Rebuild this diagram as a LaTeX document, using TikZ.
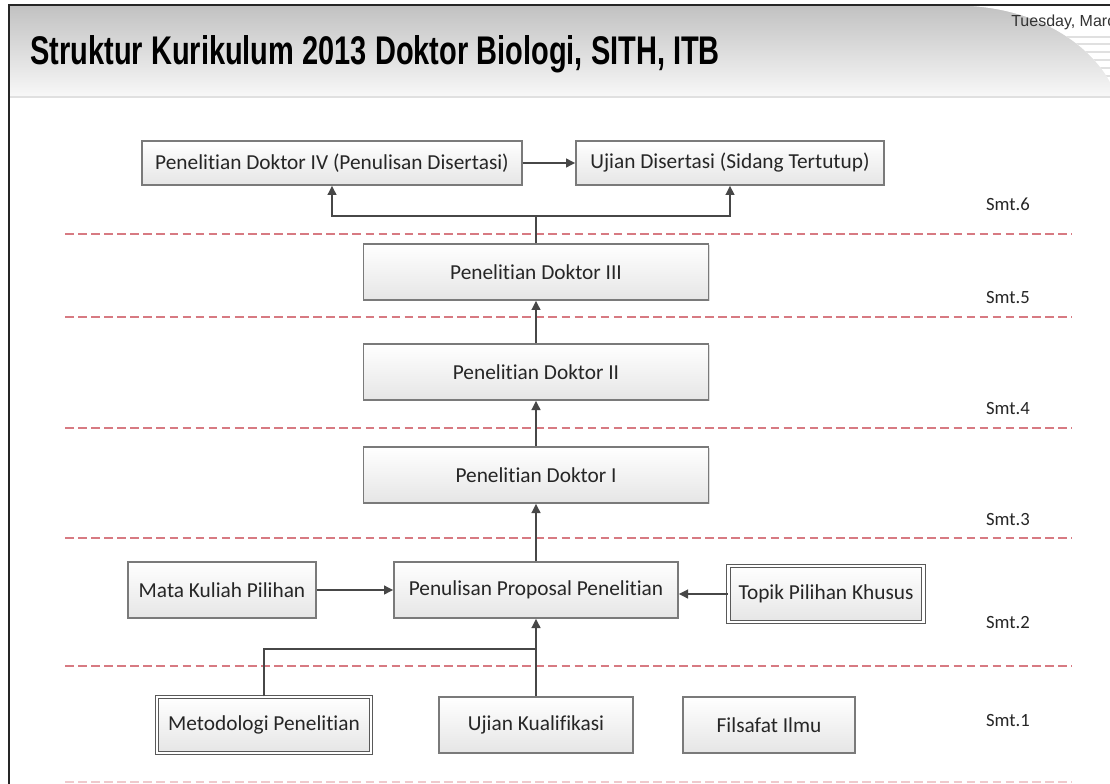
\documentclass[tikz,border=0pt]{standalone}
\usepackage{fontspec}
\setmainfont{Carlito}[Ligatures=NoCommon]
\newfontfamily\arialfont{Liberation Sans}
\usetikzlibrary{arrows.meta,shadows}
\definecolor{boxline}{HTML}{7A7A7A}
\definecolor{boxtext}{HTML}{262626}
\definecolor{arrcol}{HTML}{474747}
\definecolor{dashcol}{HTML}{D77A82}
\tikzset{
  stepbox/.style={draw=boxline, line width=1pt, top color=white, bottom color=black!10,
    minimum height=56*0.75pt, inner sep=0pt, font=\fontsize{16pt}{18pt}\selectfont,
    text=boxtext, drop shadow={shadow xshift=1pt, shadow yshift=-1pt, fill=black!25}},
  dblbox/.style={stepbox, draw=black!65, double=white, double distance=1.6pt, line width=1pt},
  conn/.style={draw=arrcol, line width=1.5pt},
  arr/.style={conn, -{Triangle[length=7pt,width=6.5pt]}},
  semline/.style={draw=dashcol, line width=1pt, dash pattern=on 6.5pt off 3.3pt},
  smt/.style={font=\fontsize{14pt}{16pt}\selectfont, text=boxtext},
}
\begin{document}
\begin{tikzpicture}[x=0.75pt,y=-0.75pt]
\useasboundingbox (0,0) rectangle (1110,784);
\fill[white] (0,0) rectangle (1110,784);
% header
\fill[top color=black!24, bottom color=black!3] (10,6) rectangle (1110,96);
\fill[white] (970,6) .. controls (1040,10) and (1090,45) .. (1110,82) -- (1110,6) -- cycle;
\begin{scope}
\clip (970,6) .. controls (1040,10) and (1090,45) .. (1110,82) -- (1110,6) -- cycle;
\foreach \yy in {37,44,52,60,68,76} \draw[black!12, line width=1.2pt] (960,\yy) -- (1110,\yy);
\end{scope}
\draw[black!12, line width=1pt] (10,97) -- (1110,97);
\draw[black!85, line width=1.5pt] (9,784) -- (9,5) -- (1110,5);
\node[anchor=base west, inner sep=0pt, text=black] (title) at (30,65)
  {\scalebox{0.725}[1]{\arialfont\bfseries\fontsize{30pt}{32pt}\selectfont Struktur Kurikulum 2013 Doktor Biologi, SITH, ITB}};
\node[anchor=base west, inner sep=0pt, text=black!80] (date) at (1011,27)
  {\arialfont\fontsize{12pt}{14pt}\selectfont Tuesday, Marc};
% semester separators
\foreach \yy in {234,317,428,538,666} \draw[semline] (65,\yy) -- (1072,\yy);
\draw[semline, draw=dashcol!40] (65,782) -- (1072,782);
% semester labels
\node[smt] (l6) at (1008,204) {Smt.6};
\node[smt] (l5) at (1008,298) {Smt.5};
\node[smt] (l4) at (1008,409) {Smt.4};
\node[smt] (l3) at (1008,520) {Smt.3};
\node[smt] (l2) at (1008,623) {Smt.2};
\node[smt] (l1) at (1008,721) {Smt.1};
% boxes
\node[stepbox, minimum width=380*0.75pt, minimum height=44*0.75pt] (pd4) at (332,163) {Penelitian Doktor IV (Penulisan Disertasi)};
\node[stepbox, minimum width=308*0.75pt, minimum height=44*0.75pt] (ud) at (730,163) {Ujian Disertasi (Sidang Tertutup)};
\node[stepbox, minimum width=345*0.75pt] (pd3) at (536,272) {Penelitian Doktor III};
\node[stepbox, minimum width=345*0.75pt] (pd2) at (536,372) {Penelitian Doktor II};
\node[stepbox, minimum width=345*0.75pt] (pd1) at (536,475) {Penelitian Doktor I};
\node[stepbox, minimum width=284*0.75pt] (pp) at (536,590) {Penulisan Proposal Penelitian};
\node[stepbox, minimum width=188*0.75pt] (mk) at (222,590) {Mata Kuliah Pilihan};
\node[dblbox, minimum width=195*0.75pt] (tp) at (826,594) {Topik Pilihan Khusus};
\node[dblbox, minimum width=214*0.75pt] (mp) at (264,725) {Metodologi Penelitian};
\node[stepbox, minimum width=194*0.75pt] (uk) at (536,725) {Ujian Kualifikasi};
\node[stepbox, minimum width=172*0.75pt] (fi) at (769,725) {Filsafat Ilmu};
% connectors
\draw[arr] (pd4.east) -- (ud.west);
\coordinate (jt) at (536,216);
\draw[conn] (pd3.north) -- (jt);
\draw[arr] (jt) -| (pd4.south);
\draw[arr] (jt) -| (ud.south);
\draw[arr] (pd2.north) -- (pd3.south);
\draw[arr] (pd1.north) -- (pd2.south);
\draw[arr] (pp.north) -- (pd1.south);
\draw[arr] (mk.east) -- (pp.west);
\draw[arr] (tp.west) -- (tp.west -| pp.east);
\coordinate (jb) at (536,649);
\draw[conn] (mp.north) |- (jb);
\draw[arr] (uk.north) -- (pp.south);
\end{tikzpicture}
\end{document}
